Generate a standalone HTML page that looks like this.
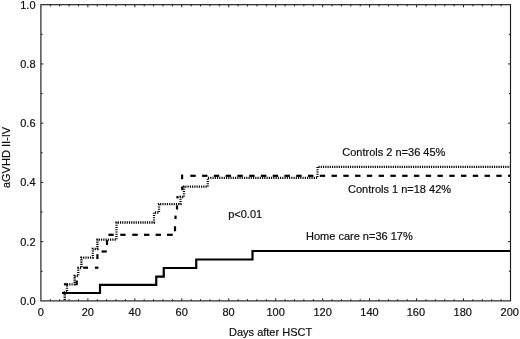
<!DOCTYPE html>
<html><head><meta charset="utf-8"><title>aGVHD II-IV</title>
<style>html,body{margin:0;padding:0;background:#fff;}body{width:520px;height:339px;overflow:hidden}svg{display:block}</style>
</head><body>
<svg width="520" height="339" viewBox="0 0 520 339">
<rect x="0" y="0" width="520" height="339" fill="#fff"/>
<rect x="40.9" y="4.7" width="469.60" height="296.20" fill="none" stroke="#1c1c1c" stroke-width="1.15"/>
<g stroke="#1c1c1c" stroke-width="1">
<line x1="50.29" y1="4.7" x2="50.29" y2="6.40"/>
<line x1="50.29" y1="300.9" x2="50.29" y2="299.20"/>
<line x1="59.68" y1="4.7" x2="59.68" y2="6.40"/>
<line x1="59.68" y1="300.9" x2="59.68" y2="299.20"/>
<line x1="69.08" y1="4.7" x2="69.08" y2="6.40"/>
<line x1="69.08" y1="300.9" x2="69.08" y2="299.20"/>
<line x1="78.47" y1="4.7" x2="78.47" y2="6.40"/>
<line x1="78.47" y1="300.9" x2="78.47" y2="299.20"/>
<line x1="87.86" y1="4.7" x2="87.86" y2="7.30"/>
<line x1="87.86" y1="300.9" x2="87.86" y2="298.30"/>
<line x1="97.25" y1="4.7" x2="97.25" y2="6.40"/>
<line x1="97.25" y1="300.9" x2="97.25" y2="299.20"/>
<line x1="106.64" y1="4.7" x2="106.64" y2="6.40"/>
<line x1="106.64" y1="300.9" x2="106.64" y2="299.20"/>
<line x1="116.04" y1="4.7" x2="116.04" y2="6.40"/>
<line x1="116.04" y1="300.9" x2="116.04" y2="299.20"/>
<line x1="125.43" y1="4.7" x2="125.43" y2="6.40"/>
<line x1="125.43" y1="300.9" x2="125.43" y2="299.20"/>
<line x1="134.82" y1="4.7" x2="134.82" y2="7.30"/>
<line x1="134.82" y1="300.9" x2="134.82" y2="298.30"/>
<line x1="144.21" y1="4.7" x2="144.21" y2="6.40"/>
<line x1="144.21" y1="300.9" x2="144.21" y2="299.20"/>
<line x1="153.60" y1="4.7" x2="153.60" y2="6.40"/>
<line x1="153.60" y1="300.9" x2="153.60" y2="299.20"/>
<line x1="163.00" y1="4.7" x2="163.00" y2="6.40"/>
<line x1="163.00" y1="300.9" x2="163.00" y2="299.20"/>
<line x1="172.39" y1="4.7" x2="172.39" y2="6.40"/>
<line x1="172.39" y1="300.9" x2="172.39" y2="299.20"/>
<line x1="181.78" y1="4.7" x2="181.78" y2="7.30"/>
<line x1="181.78" y1="300.9" x2="181.78" y2="298.30"/>
<line x1="191.17" y1="4.7" x2="191.17" y2="6.40"/>
<line x1="191.17" y1="300.9" x2="191.17" y2="299.20"/>
<line x1="200.56" y1="4.7" x2="200.56" y2="6.40"/>
<line x1="200.56" y1="300.9" x2="200.56" y2="299.20"/>
<line x1="209.96" y1="4.7" x2="209.96" y2="6.40"/>
<line x1="209.96" y1="300.9" x2="209.96" y2="299.20"/>
<line x1="219.35" y1="4.7" x2="219.35" y2="6.40"/>
<line x1="219.35" y1="300.9" x2="219.35" y2="299.20"/>
<line x1="228.74" y1="4.7" x2="228.74" y2="7.30"/>
<line x1="228.74" y1="300.9" x2="228.74" y2="298.30"/>
<line x1="238.13" y1="4.7" x2="238.13" y2="6.40"/>
<line x1="238.13" y1="300.9" x2="238.13" y2="299.20"/>
<line x1="247.52" y1="4.7" x2="247.52" y2="6.40"/>
<line x1="247.52" y1="300.9" x2="247.52" y2="299.20"/>
<line x1="256.92" y1="4.7" x2="256.92" y2="6.40"/>
<line x1="256.92" y1="300.9" x2="256.92" y2="299.20"/>
<line x1="266.31" y1="4.7" x2="266.31" y2="6.40"/>
<line x1="266.31" y1="300.9" x2="266.31" y2="299.20"/>
<line x1="275.70" y1="4.7" x2="275.70" y2="7.30"/>
<line x1="275.70" y1="300.9" x2="275.70" y2="298.30"/>
<line x1="285.09" y1="4.7" x2="285.09" y2="6.40"/>
<line x1="285.09" y1="300.9" x2="285.09" y2="299.20"/>
<line x1="294.48" y1="4.7" x2="294.48" y2="6.40"/>
<line x1="294.48" y1="300.9" x2="294.48" y2="299.20"/>
<line x1="303.88" y1="4.7" x2="303.88" y2="6.40"/>
<line x1="303.88" y1="300.9" x2="303.88" y2="299.20"/>
<line x1="313.27" y1="4.7" x2="313.27" y2="6.40"/>
<line x1="313.27" y1="300.9" x2="313.27" y2="299.20"/>
<line x1="322.66" y1="4.7" x2="322.66" y2="7.30"/>
<line x1="322.66" y1="300.9" x2="322.66" y2="298.30"/>
<line x1="332.05" y1="4.7" x2="332.05" y2="6.40"/>
<line x1="332.05" y1="300.9" x2="332.05" y2="299.20"/>
<line x1="341.44" y1="4.7" x2="341.44" y2="6.40"/>
<line x1="341.44" y1="300.9" x2="341.44" y2="299.20"/>
<line x1="350.84" y1="4.7" x2="350.84" y2="6.40"/>
<line x1="350.84" y1="300.9" x2="350.84" y2="299.20"/>
<line x1="360.23" y1="4.7" x2="360.23" y2="6.40"/>
<line x1="360.23" y1="300.9" x2="360.23" y2="299.20"/>
<line x1="369.62" y1="4.7" x2="369.62" y2="7.30"/>
<line x1="369.62" y1="300.9" x2="369.62" y2="298.30"/>
<line x1="379.01" y1="4.7" x2="379.01" y2="6.40"/>
<line x1="379.01" y1="300.9" x2="379.01" y2="299.20"/>
<line x1="388.40" y1="4.7" x2="388.40" y2="6.40"/>
<line x1="388.40" y1="300.9" x2="388.40" y2="299.20"/>
<line x1="397.80" y1="4.7" x2="397.80" y2="6.40"/>
<line x1="397.80" y1="300.9" x2="397.80" y2="299.20"/>
<line x1="407.19" y1="4.7" x2="407.19" y2="6.40"/>
<line x1="407.19" y1="300.9" x2="407.19" y2="299.20"/>
<line x1="416.58" y1="4.7" x2="416.58" y2="7.30"/>
<line x1="416.58" y1="300.9" x2="416.58" y2="298.30"/>
<line x1="425.97" y1="4.7" x2="425.97" y2="6.40"/>
<line x1="425.97" y1="300.9" x2="425.97" y2="299.20"/>
<line x1="435.36" y1="4.7" x2="435.36" y2="6.40"/>
<line x1="435.36" y1="300.9" x2="435.36" y2="299.20"/>
<line x1="444.76" y1="4.7" x2="444.76" y2="6.40"/>
<line x1="444.76" y1="300.9" x2="444.76" y2="299.20"/>
<line x1="454.15" y1="4.7" x2="454.15" y2="6.40"/>
<line x1="454.15" y1="300.9" x2="454.15" y2="299.20"/>
<line x1="463.54" y1="4.7" x2="463.54" y2="7.30"/>
<line x1="463.54" y1="300.9" x2="463.54" y2="298.30"/>
<line x1="472.93" y1="4.7" x2="472.93" y2="6.40"/>
<line x1="472.93" y1="300.9" x2="472.93" y2="299.20"/>
<line x1="482.32" y1="4.7" x2="482.32" y2="6.40"/>
<line x1="482.32" y1="300.9" x2="482.32" y2="299.20"/>
<line x1="491.72" y1="4.7" x2="491.72" y2="6.40"/>
<line x1="491.72" y1="300.9" x2="491.72" y2="299.20"/>
<line x1="501.11" y1="4.7" x2="501.11" y2="6.40"/>
<line x1="501.11" y1="300.9" x2="501.11" y2="299.20"/>
<line x1="40.9" y1="271.28" x2="42.60" y2="271.28"/>
<line x1="510.5" y1="271.28" x2="508.80" y2="271.28"/>
<line x1="40.9" y1="241.66" x2="43.30" y2="241.66"/>
<line x1="510.5" y1="241.66" x2="508.10" y2="241.66"/>
<line x1="40.9" y1="212.04" x2="42.60" y2="212.04"/>
<line x1="510.5" y1="212.04" x2="508.80" y2="212.04"/>
<line x1="40.9" y1="182.42" x2="43.30" y2="182.42"/>
<line x1="510.5" y1="182.42" x2="508.10" y2="182.42"/>
<line x1="40.9" y1="152.80" x2="42.60" y2="152.80"/>
<line x1="510.5" y1="152.80" x2="508.80" y2="152.80"/>
<line x1="40.9" y1="123.18" x2="43.30" y2="123.18"/>
<line x1="510.5" y1="123.18" x2="508.10" y2="123.18"/>
<line x1="40.9" y1="93.56" x2="42.60" y2="93.56"/>
<line x1="510.5" y1="93.56" x2="508.80" y2="93.56"/>
<line x1="40.9" y1="63.94" x2="43.30" y2="63.94"/>
<line x1="510.5" y1="63.94" x2="508.10" y2="63.94"/>
<line x1="40.9" y1="34.32" x2="42.60" y2="34.32"/>
<line x1="510.5" y1="34.32" x2="508.80" y2="34.32"/>
</g>
<g font-family="'Liberation Sans', Arial, Helvetica, sans-serif" font-size="11" fill="#111" stroke="#111" stroke-width="0.2">
<text x="35.5" y="304.8" text-anchor="end">0.0</text>
<text x="35.5" y="245.6" text-anchor="end">0.2</text>
<text x="35.5" y="186.3" text-anchor="end">0.4</text>
<text x="35.5" y="127.1" text-anchor="end">0.6</text>
<text x="35.5" y="67.8" text-anchor="end">0.8</text>
<text x="35.5" y="8.6" text-anchor="end">1.0</text>
<text x="40.8" y="316" text-anchor="middle">0</text>
<text x="87.8" y="316" text-anchor="middle">20</text>
<text x="134.7" y="316" text-anchor="middle">40</text>
<text x="181.7" y="316" text-anchor="middle">60</text>
<text x="228.6" y="316" text-anchor="middle">80</text>
<text x="275.6" y="316" text-anchor="middle">100</text>
<text x="322.6" y="316" text-anchor="middle">120</text>
<text x="369.5" y="316" text-anchor="middle">140</text>
<text x="415.9" y="316" text-anchor="middle">160</text>
<text x="462.8" y="316" text-anchor="middle">180</text>
<text x="509.8" y="316" text-anchor="middle">200</text>
<text x="270.6" y="336" text-anchor="middle">Days after HSCT</text>
<text transform="translate(9.8,157.5) rotate(-90)" text-anchor="middle">aGVHD II-IV</text>
<text x="342.3" y="156.2">Controls 2 n=36 45%</text>
<text x="348" y="192.7">Controls 1 n=18 42%</text>
<text x="228.2" y="217.6">p&lt;0.01</text>
<text x="306" y="240.2">Home care n=36 17%</text>
</g>
<polyline fill="none" stroke="#000" stroke-width="2.2" stroke-linejoin="miter" points="62,293 100,293 100,284.8 156.25,284.8 156.25,276.7 163.75,276.7 163.75,268 196.25,268 196.25,259.5 252.5,259.5 252.5,251 510,251"/>
<polyline fill="none" stroke="#000" stroke-width="2.3" stroke-dasharray="1.15 1.1" points="64.7,300 64.7,292.3 67,292.3 67,284.3 74.6,284.3 74.6,276 78.3,276 78.3,268 81.4,268 81.4,257.7 92.8,257.7 92.8,249 97.4,249 97.4,239.6 116.5,239.6 116.5,222.5 154,222.5 154,212.5 159,212.5 159,204.2 180.5,204.2 180.5,197 184,197 184,186.6 207.75,186.6 207.75,177.8 317.5,177.8 317.5,166.8 510,166.8"/>
<g fill="#000">
<rect x="63.90" y="283.20" width="3.70" height="2.20"/>
<rect x="75.60" y="280.50" width="2.20" height="4.70"/>
<rect x="83.10" y="266.60" width="4.90" height="2.20"/>
<rect x="94.90" y="266.60" width="3.50" height="2.20"/>
<rect x="96.30" y="254.20" width="2.20" height="4.80"/>
<rect x="101.60" y="250.40" width="5.20" height="2.20"/>
<rect x="105.90" y="240.20" width="2.20" height="4.80"/>
<rect x="108.40" y="233.70" width="5.30" height="2.20"/>
<rect x="120.25" y="233.70" width="5.35" height="2.20"/>
<rect x="132.25" y="233.70" width="5.50" height="2.20"/>
<rect x="144.00" y="233.70" width="5.40" height="2.20"/>
<rect x="155.60" y="233.70" width="5.40" height="2.20"/>
<rect x="166.90" y="233.70" width="5.85" height="2.20"/>
<rect x="173.90" y="226.25" width="2.20" height="5.00"/>
<rect x="174.40" y="215.60" width="2.20" height="3.40"/>
<rect x="175.90" y="205.40" width="2.20" height="4.10"/>
<rect x="176.40" y="196.00" width="2.20" height="2.40"/>
<rect x="181.15" y="186.50" width="2.20" height="3.70"/>
<rect x="181.00" y="174.60" width="2.20" height="4.60"/>
<rect x="190.30" y="174.70" width="5.40" height="2.20"/>
<rect x="202.07" y="174.70" width="5.40" height="2.20"/>
<rect x="213.84" y="174.70" width="5.40" height="2.20"/>
<rect x="225.61" y="174.70" width="5.40" height="2.20"/>
<rect x="237.38" y="174.70" width="5.40" height="2.20"/>
<rect x="249.15" y="174.70" width="5.40" height="2.20"/>
<rect x="260.92" y="174.70" width="5.40" height="2.20"/>
<rect x="272.69" y="174.70" width="5.40" height="2.20"/>
<rect x="284.46" y="174.70" width="5.40" height="2.20"/>
<rect x="296.23" y="174.70" width="5.40" height="2.20"/>
<rect x="308.00" y="174.70" width="5.40" height="2.20"/>
<rect x="319.77" y="174.70" width="5.40" height="2.20"/>
<rect x="331.54" y="174.70" width="5.40" height="2.20"/>
<rect x="343.31" y="174.70" width="5.40" height="2.20"/>
<rect x="355.08" y="174.70" width="5.40" height="2.20"/>
<rect x="366.85" y="174.70" width="5.40" height="2.20"/>
<rect x="378.62" y="174.70" width="5.40" height="2.20"/>
<rect x="390.39" y="174.70" width="5.40" height="2.20"/>
<rect x="402.16" y="174.70" width="5.40" height="2.20"/>
<rect x="413.93" y="174.70" width="5.40" height="2.20"/>
<rect x="425.70" y="174.70" width="5.40" height="2.20"/>
<rect x="437.47" y="174.70" width="5.40" height="2.20"/>
<rect x="449.24" y="174.70" width="5.40" height="2.20"/>
<rect x="461.01" y="174.70" width="5.40" height="2.20"/>
<rect x="472.78" y="174.70" width="5.40" height="2.20"/>
<rect x="484.55" y="174.70" width="5.40" height="2.20"/>
<rect x="496.32" y="174.70" width="5.40" height="2.20"/>
<rect x="508.09" y="174.70" width="1.91" height="2.20"/>
</g>
</svg>
</body></html>
